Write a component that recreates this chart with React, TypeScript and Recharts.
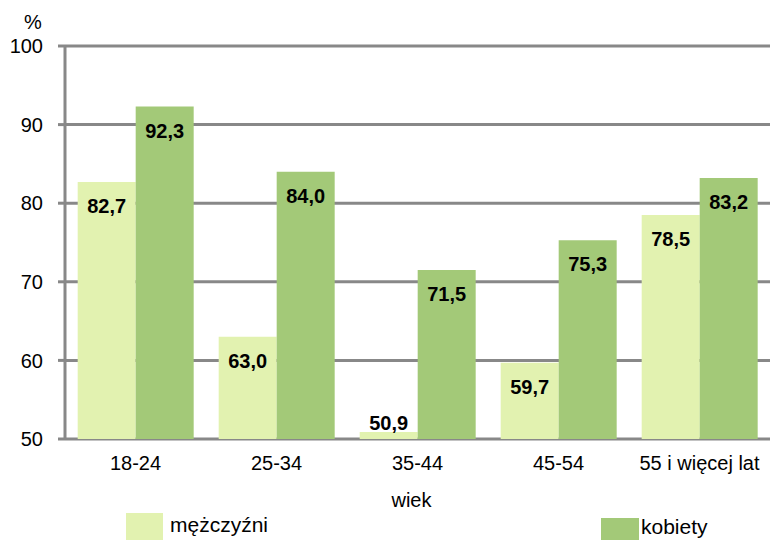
import React from 'react';
import { BarChart, Bar, XAxis, YAxis, CartesianGrid, LabelList } from 'recharts';

const ageGroups = ['18-24', '25-34', '35-44', '45-54', '55 i więcej lat'];
const menValues = [82.7, 63.0, 50.9, 59.7, 78.5];
const womenValues = [92.3, 84.0, 71.5, 75.3, 83.2];
const yTicks = [50, 60, 70, 80, 90, 100];
const categoryEdges = [0, 1, 2, 3, 4, 5];

const MEN_COLOR = '#E2F2B0';
const WOMEN_COLOR = '#A3C978';
const GRID_COLOR = '#888888';
const FONT = '"Liberation Sans", Arial, sans-serif';

const data = ageGroups.map((age, i) => ({ age, men: menValues[i], women: womenValues[i] }));

const fmt = (v: number) => v.toFixed(1).replace('.', ',');

// value inside the top of the bar, or just above it when the bar is too short
const BarValueLabel = (props: any) => {
    const { x, y, width, height, value } = props;
    const inside = height > 30;
    return (
        <text
            x={x + width / 2}
            y={inside ? y + 31 : y - 2}
            textAnchor="middle"
            fontSize={20}
            fontWeight="bold"
            fill="#000"
            fontFamily={FONT}
        >
            {fmt(value)}
        </text>
    );
};

export default function App() {
    return (
        <div style={{ position: 'absolute', left: 0, top: 0, width: 783, height: 540, fontFamily: FONT, background: '#fff', overflow: 'hidden' }}>
            <BarChart
                width={783}
                height={540}
                data={data}
                margin={{ top: 46, right: 13, left: 8, bottom: 26 }}
                barGap={0}
                barCategoryGap="9%"
            >
                <CartesianGrid xAxisId="cat" vertical={false} stroke={GRID_COLOR} strokeWidth={3} />
                <XAxis
                    xAxisId="edges"
                    type="number"
                    domain={[0, 5]}
                    ticks={categoryEdges}
                    allowDataOverflow
                    tick={false}
                    height={0}
                    tickSize={7}
                    axisLine={{ stroke: GRID_COLOR, strokeWidth: 3 }}
                    tickLine={{ stroke: GRID_COLOR, strokeWidth: 3 }}
                />
                <XAxis
                    xAxisId="cat"
                    dataKey="age"
                    height={75}
                    interval={0}
                    axisLine={false}
                    tickLine={false}
                    tickSize={8}
                    tickMargin={9}
                    tick={{ fontSize: 20, fill: '#000', fontFamily: FONT }}
                    label={{ value: 'wiek', position: 'insideBottom', offset: 7, dx: -6, fontSize: 20, fill: '#000', fontFamily: FONT }}
                />
                <YAxis
                    width={57}
                    domain={[50, 100]}
                    ticks={yTicks}
                    allowDataOverflow
                    tickSize={7}
                    tickMargin={15}
                    axisLine={{ stroke: GRID_COLOR, strokeWidth: 3 }}
                    tickLine={{ stroke: GRID_COLOR, strokeWidth: 3 }}
                    tick={{ fontSize: 20, fill: '#000', fontFamily: FONT }}
                />
                <Bar xAxisId="cat" dataKey="men" name="mężczyźni" fill={MEN_COLOR} isAnimationActive={false}>
                    <LabelList dataKey="men" content={BarValueLabel} />
                </Bar>
                <Bar xAxisId="cat" dataKey="women" name="kobiety" fill={WOMEN_COLOR} isAnimationActive={false}>
                    <LabelList dataKey="women" content={BarValueLabel} />
                </Bar>
            </BarChart>

            <div style={{ position: 'absolute', left: 24, top: 11, fontSize: 20, lineHeight: '22px' }}>%</div>

            {/* legend */}
            <div style={{ position: 'absolute', left: 126, top: 513, width: 37, height: 27, background: MEN_COLOR }} />
            <div style={{ position: 'absolute', left: 170, top: 514, fontSize: 21, lineHeight: '22px' }}>mężczyźni</div>
            <div style={{ position: 'absolute', left: 601, top: 518, width: 38, height: 22, background: WOMEN_COLOR }} />
            <div style={{ position: 'absolute', left: 641, top: 516, fontSize: 21, lineHeight: '22px' }}>kobiety</div>
        </div>
    );
}
